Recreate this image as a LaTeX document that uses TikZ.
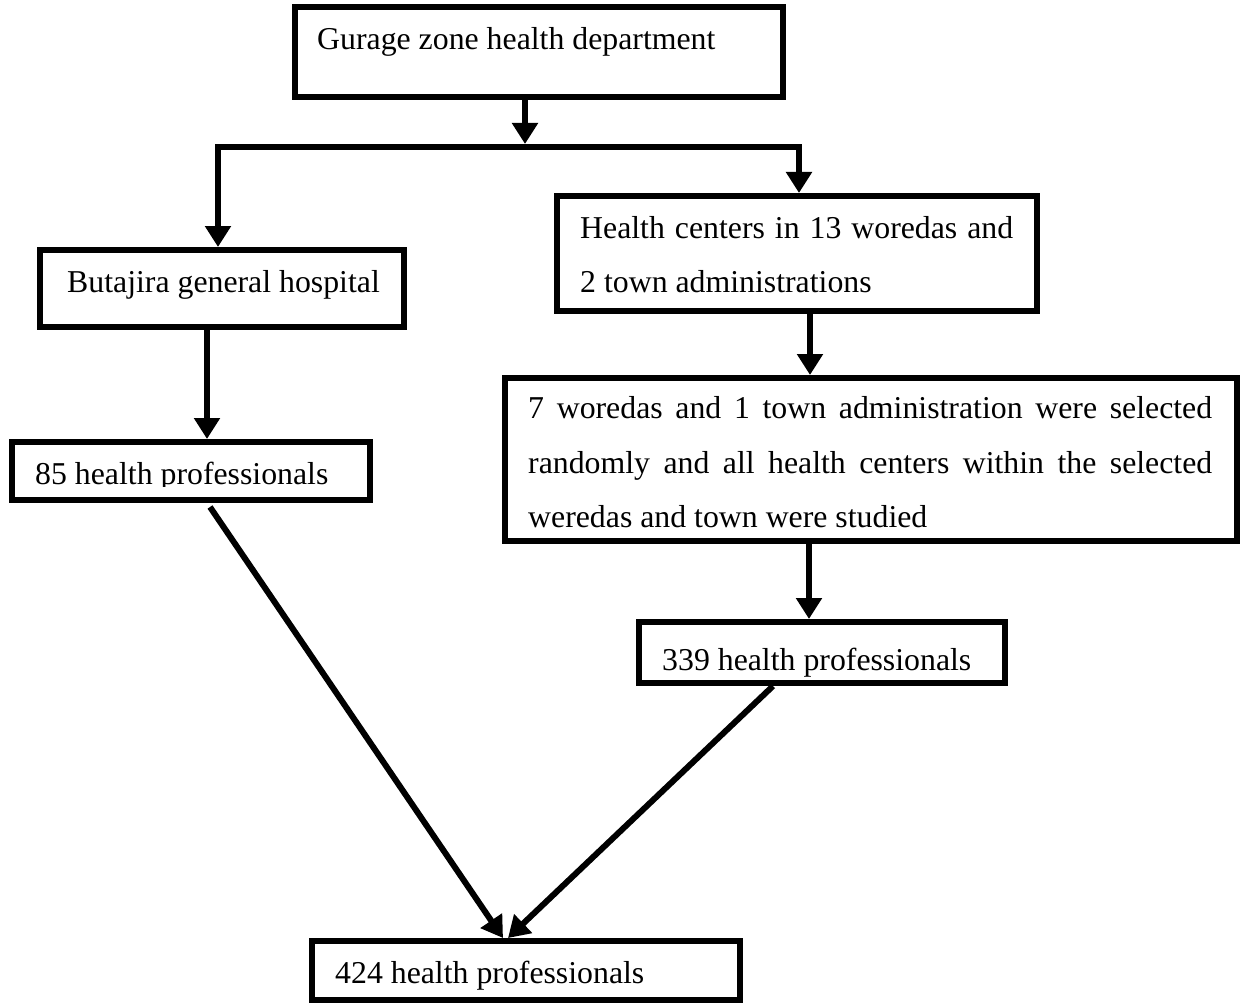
\documentclass[tikz,border=0pt]{standalone}
\usepackage{fontspec}
\setmainfont{Liberation Serif}
\usetikzlibrary{arrows.meta}
\begin{document}
\begin{tikzpicture}[x=1pt,y=-1pt,
  box/.style={draw=black, line width=6pt, inner sep=0pt},
  txt/.style={anchor=base west, inner sep=0pt, font=\fontsize{31.8}{38}\selectfont},
  arr/.style={line width=6pt, line join=miter, -{Triangle[width=25pt,length=21pt]}}]
\fill[white] (0,0) rectangle (1244,1003);
\useasboundingbox (0,0) rectangle (1244,1003);

% boxes
\node[box, minimum width=488pt, minimum height=90pt]  (top)  at (539,52) {};
\node[box, minimum width=364pt, minimum height=77pt]  (bh)   at (222,288.5) {};
\node[box, minimum width=358pt, minimum height=58pt]  (n85)  at (191,471) {};
\node[box, minimum width=480pt, minimum height=115pt] (hc)   at (797,253.5) {};
\node[box, minimum width=732pt, minimum height=163pt] (w7)   at (871,459.5) {};
\node[box, minimum width=366pt, minimum height=61pt]  (n339) at (822,652.5) {};
\node[box, minimum width=428pt, minimum height=59pt]  (n424) at (526,970.5) {};

% texts
\node[txt] (ttop) at (317,50) {Gurage zone health department};
\node[txt] (tbh) at (67,292) {Butajira general hospital};
\begin{scope}
  \clip (0,430) rectangle (400,486);
  \node[txt] (t85) at (35,484) {85 health professionals};
\end{scope}
\node[txt] (thc1) at (580,238) {\hbox to 433pt{Health\hfill centers\hfill in\hfill 13\hfill woredas\hfill and}};
\node[txt] (thc2) at (580,292) {2 town administrations};
\node[txt] (tw1) at (528,418) {\hbox to 684pt{7\hfill woredas\hfill and\hfill 1\hfill town\hfill administration\hfill were\hfill selected}};
\node[txt] (tw2) at (528,473) {\hbox to 684pt{randomly\hfill and\hfill all\hfill health\hfill centers\hfill within\hfill the\hfill selected}};
\node[txt] (tw3) at (528,527) {weredas and town were studied};
\node[txt] (t339) at (662,670) {339 health professionals};
\node[txt] (t424) at (335,983) {424 health professionals};

% junctions
\coordinate (jc) at (525,144);
\coordinate (hL) at (218,147);
\coordinate (hR) at (799,147);

% connectors
\draw[arr] ([xshift=-14pt]top.south) -- (jc);
\draw[arr] (hR) -- (hL) -- (hL |- bh.north);
\draw[arr] (hL) -- (hR) -- (hR |- hc.north);
\draw[arr] ([xshift=-15pt]bh.south) -- ([xshift=-15pt]bh.south |- n85.north);
\draw[arr] ([xshift=13pt]hc.south) -- ([xshift=13pt]hc.south |- w7.north);
\draw[arr] ([xshift=-62pt]w7.south) -- ([xshift=-62pt]w7.south |- n339.north);
\draw[arr] ([xshift=19pt,yshift=-4pt]n85.south) -- ([xshift=-23pt]n424.north);
\draw[arr] ([xshift=-49pt]n339.south) -- ([xshift=-18pt]n424.north);
\end{tikzpicture}
\end{document}
